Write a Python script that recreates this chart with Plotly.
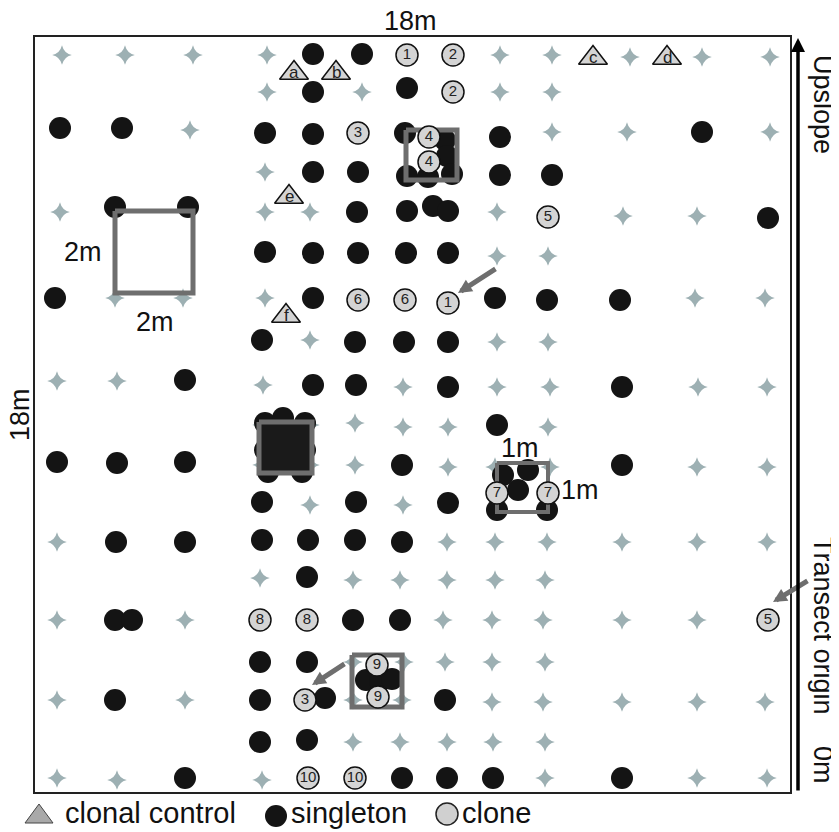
import plotly.graph_objects as go

# Map coordinates (map units: 18 m plot spans 35..790 horizontally, 37..792 vertically, top = upslope)
star_x = [62,125,193,267,500,552,630,702,770,
          267,362,500,552,
          190,552,627,770,
          265,
          60,265,310,497,623,697,
          497,548,
          115,183,265,695,765,
          310,497,548,
          57,117,263,403,497,550,698,767,
          262,310,355,403,448,548,
          262,310,355,448,495,550,697,767,
          310,403,
          57,447,495,547,622,697,767,
          260,353,400,447,495,545,
          57,185,443,492,543,622,697,
          353,404,445,492,545,
          57,185,353,402,492,543,622,697,765,
          353,400,447,493,545,
          57,117,262,545,697,767]
star_y = [55,55,55,55,55,55,57,57,57,
          92,92,92,92,
          130,132,132,132,
          172,
          212,212,212,212,216,216,
          256,256,
          298,298,298,298,298,
          340,342,342,
          381,381,385,387,387,387,387,387,
          425,425,423,427,427,427,
          465,465,465,467,467,467,467,467,
          505,505,
          542,542,542,542,542,542,542,
          578,580,580,580,580,580,
          620,620,620,620,620,620,620,
          662,662,662,662,662,
          700,700,700,700,702,702,702,702,702,
          742,742,742,742,742,
          778,780,780,778,778,778]

singleton_x = [313,362,
               313,407,
               60,122,265,313,405,500,702,445,447,
               313,358,407,428,452,500,552,
               115,188,357,407,433,448,768,
               265,313,358,406,448,
               55,313,495,547,620,
               262,355,404,448,
               185,313,356,448,622,
               265,283,305,265,305,268,302,497,
               57,117,185,402,622,
               503,528,518,497,547,
               262,356,448,
               116,185,262,308,355,402,
               307,
               115,132,353,400,
               260,307,366,380,392,
               115,260,325,445,
               260,307,
               185,402,447,493,622]
singleton_y = [54,54,
               92,88,
               128,128,133,134,133,137,132,140,156,
               172,172,176,177,174,175,175,
               207,207,212,211,206,211,218,
               252,253,253,253,253,
               298,298,298,300,300,
               340,342,342,342,
               380,385,385,387,387,
               423,418,423,450,450,472,472,425,
               462,463,462,465,465,
               475,470,490,510,510,
               502,502,503,
               542,542,540,540,540,542,
               577,
               620,620,620,620,
               662,662,680,681,679,
               700,700,698,700,
               742,740,
               778,778,778,778,778]

clone_x = [407,453,453,358,429,429,548,358,405,448,497,548,260,307,768,377,378,305,308,355]
clone_y = [55,55,92,133,137,162,217,300,300,303,493,493,620,620,620,665,697,700,778,778]
clone_id = ["1","2","2","3","4","4","5","6","6","1","7","7","8","8","5","9","9","3","10","10"]

control_x = [294,336,593,667,289,286]
control_y = [73,73,58,58,197,316]
control_id = ["a","b","c","d","e","f"]

# quadrats: x0, x1, y0, y1, filled
quad_x0 = [115,406,259,497,352]
quad_x1 = [193,457,312,548,402]
quad_y0 = [211,130,422,463,655]
quad_y1 = [293,180,473,512,707]
quad_fill = [False,False,True,False,False]
quad_w = [5,5,5,4,5]

# grey pointer arrows: head and tail
arrow_hx = [458,312,773]
arrow_hy = [293,685,602]
arrow_tx = [497,346,809]
arrow_ty = [268,663,580]

# scale labels
scale_text = ["2m","2m","1m","1m"]
scale_x = [83,155,520,580]
scale_y = [252,322,448,490]

FONT = "Arial, 'Liberation Sans', sans-serif"
X0, X1, Y0, Y1 = 35, 790, 37, 792   # map frame


def px(x):
    return (x - X0) / (X1 - X0)


def py(y):
    return (Y1 - y) / (Y1 - Y0)


fig = go.Figure()

fig.add_trace(go.Scatter(x=star_x, y=star_y, mode="markers",
                         marker=dict(symbol="star-diamond", size=14, color="#9db0b3",
                                     line=dict(width=0)),
                         hoverinfo="skip", showlegend=False))

fig.add_trace(go.Scatter(x=singleton_x, y=singleton_y, mode="markers",
                         marker=dict(symbol="circle", size=22, color="#141414",
                                     line=dict(width=0)),
                         hoverinfo="skip", showlegend=False))

for x0, x1, y0, y1, filled, w in zip(quad_x0, quad_x1, quad_y0, quad_y1, quad_fill, quad_w):
    fig.add_trace(go.Scatter(x=[x0, x1, x1, x0, x0], y=[y0, y0, y1, y1, y0],
                             mode="lines", line=dict(color="#6e6e6e", width=w),
                             fill="toself" if filled else None,
                             fillcolor="#1a1a1a" if filled else None,
                             hoverinfo="skip", showlegend=False))

fig.add_trace(go.Scatter(x=clone_x, y=clone_y, mode="markers+text", text=clone_id,
                         textposition="middle center",
                         textfont=dict(family=FONT, size=15, color="#222"),
                         marker=dict(symbol="circle", size=22, color="#d4d4d4",
                                     line=dict(width=1.5, color="#111")),
                         hoverinfo="skip", showlegend=False))

fig.add_trace(go.Scatter(x=control_x, y=control_y, mode="markers",
                         marker=dict(symbol="triangle-up", size=25, color="#d4d4d4",
                                     line=dict(width=1.5, color="#111")),
                         hoverinfo="skip", showlegend=False))

annotations = []
for x, y, t in zip(control_x, control_y, control_id):
    annotations.append(dict(x=x, y=y - 1, xref="x", yref="y", text=t, showarrow=False,
                            xanchor="center", yanchor="middle",
                            font=dict(family=FONT, size=17, color="#222")))

for hx, hy, tx, ty in zip(arrow_hx, arrow_hy, arrow_tx, arrow_ty):
    annotations.append(dict(x=px(hx), y=py(hy), ax=tx - hx, ay=ty - hy, xref="paper", yref="paper",
                            text="", showarrow=True,
                            arrowhead=2, arrowsize=0.55, arrowwidth=5,
                            arrowcolor="#6e6e6e"))

for t, x, y in zip(scale_text, scale_x, scale_y):
    annotations.append(dict(x=x, y=y, xref="x", yref="y", text=t, showarrow=False,
                            xanchor="center", yanchor="middle",
                            font=dict(family=FONT, size=27, color="#111")))

# slope arrow
annotations.append(dict(x=px(798), y=py(38), ax=0, ay=792 - 38, xref="paper", yref="paper",
                        text="", showarrow=True, arrowhead=2, arrowsize=0.8, arrowwidth=3.5,
                        arrowcolor="#000"))

outer = [("18m", 410, 21, 0), ("18m", 20, 415, -90), ("Upslope", 823, 105, 90),
         ("Transect origin", 823, 626, 90), ("0m", 823, 765, 90)]
for t, x, y, ang in outer:
    annotations.append(dict(x=px(x), y=py(y), xref="paper", yref="paper", text=t,
                            showarrow=False, textangle=ang, xanchor="center", yanchor="middle",
                            font=dict(family=FONT, size=27, color="#111")))

# legend
leg_text = ["clonal control", "singleton", "clone"]
leg_tx = [63, 289, 460]
for t, x in zip(leg_text, leg_tx):
    annotations.append(dict(x=px(x), y=py(813), xref="paper", yref="paper", text=t, showarrow=False,
                            xanchor="left", yanchor="middle",
                            font=dict(family=FONT, size=29, color="#111")))

shapes = [
    dict(type="path", xref="paper", yref="paper",
         path=f"M {px(25)},{py(823)} L {px(53)},{py(823)} L {px(39)},{py(804)} Z",
         fillcolor="#a9a9a9", line=dict(color="#444", width=1)),
    dict(type="circle", xref="paper", yref="paper",
         x0=px(265), x1=px(287), y0=py(827), y1=py(805),
         fillcolor="#141414", line=dict(width=0)),
    dict(type="circle", xref="paper", yref="paper",
         x0=px(436), x1=px(458), y0=py(825), y1=py(803),
         fillcolor="#d0d0d0", line=dict(color="#222", width=1.5)),
]

# page body has an 8 px margin, so the figure is sized and offset to compensate
fig.update_layout(
    width=831, height=824,
    margin=dict(l=27, r=49, t=29, b=40),
    paper_bgcolor="white", plot_bgcolor="white",
    annotations=annotations, shapes=shapes,
    xaxis=dict(range=[X0, X1], showgrid=False, zeroline=False, showticklabels=False,
               ticks="", showline=True, mirror=True, linecolor="#222", linewidth=2),
    yaxis=dict(range=[Y1, Y0], showgrid=False, zeroline=False, showticklabels=False,
               ticks="", showline=True, mirror=True, linecolor="#222", linewidth=2),
)

fig.write_html("out.html")
